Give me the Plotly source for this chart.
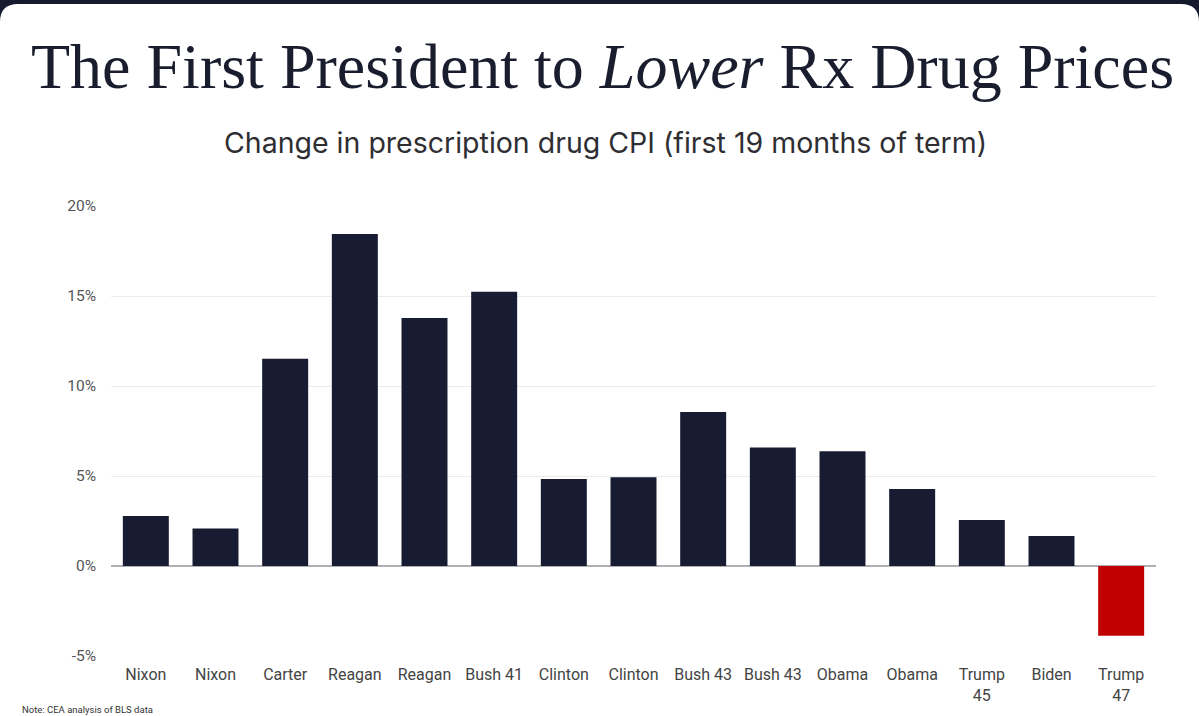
import plotly.graph_objects as go

# data
presidents = ["Nixon", "Nixon", "Carter", "Reagan", "Reagan", "Bush 41", "Clinton", "Clinton",
              "Bush 43", "Bush 43", "Obama", "Obama", "Trump<br>45", "Biden", "Trump<br>47"]
rx_cpi_change = [2.78, 2.09, 11.52, 18.44, 13.78, 15.24, 4.83, 4.93,
                 8.56, 6.59, 6.37, 4.28, 2.56, 1.67, -3.87]
y_ticks = [-5, 0, 5, 10, 15, 20]
y_tick_text = ["-5%", "0%", "5%", "10%", "15%", "20%"]

NAVY = "#181c33"
RED = "#c00000"

W_PX, H_PX = 1199, 716
L, R, T, B = 111, 1156, 206, 656  # plot area in pixels


def px(x):
    return (x - L) / (R - L)


def py(y):
    return (B - y) / (B - T)


bar_colors = [RED if v < 0 else NAVY for v in rx_cpi_change]

fig = go.Figure()
fig.add_trace(go.Bar(
    x=list(range(len(presidents))), y=rx_cpi_change,
    marker=dict(color=bar_colors, line=dict(width=0)),
    hoverinfo="skip",
))

# dark strip across the top with rounded card corners
band = (f"M {px(0)},{py(0)} L {px(W_PX)},{py(0)} L {px(W_PX)},{py(22)} "
        f"Q {px(W_PX)},{py(4)} {px(W_PX - 18)},{py(4)} L {px(18)},{py(4)} "
        f"Q {px(0)},{py(4)} {px(0)},{py(22)} Z")
fig.add_shape(type="path", path=band, xref="paper", yref="paper",
              fillcolor="#151a2e", line=dict(width=0), layer="above")

fig.add_annotation(
    text="The First President to <i>Lower</i> Rx Drug Prices",
    x=px(602), y=py(67), xref="paper", yref="paper", showarrow=False,
    xanchor="center", yanchor="middle",
    font=dict(family="Liberation Serif", size=64, color="#1a1d2e"),
)
fig.add_annotation(
    text="Change in prescription drug CPI (first 19 months of term)",
    x=px(605), y=py(142), xref="paper", yref="paper", showarrow=False,
    xanchor="center", yanchor="middle",
    font=dict(family="Inter", size=28.5, color="#2e2e33"),
)
fig.add_annotation(
    text="Note: CEA analysis of BLS data",
    x=px(20), y=py(709), xref="paper", yref="paper", showarrow=False,
    xanchor="left", yanchor="middle",
    font=dict(family="Roboto", size=9.5, color="#333333"),
)

fig.update_layout(
    width=W_PX, height=H_PX,
    margin=dict(l=L, r=W_PX - R, t=T, b=H_PX - B, pad=0),
    paper_bgcolor="white", plot_bgcolor="white",
    showlegend=False, bargap=0.34,
    xaxis=dict(
        tickmode="array", tickvals=list(range(len(presidents))), ticktext=presidents,
        range=[-0.5, len(presidents) - 0.5],
        showgrid=False, zeroline=False, showline=False, ticks="",
        tickfont=dict(family="Roboto", size=16, color="#444444"),
        ticklabelstandoff=7,
    ),
    yaxis=dict(
        range=[-5, 20], tickmode="array", tickvals=y_ticks, ticktext=y_tick_text,
        showgrid=True, gridcolor="#ebebeb", gridwidth=1,
        zeroline=True, zerolinecolor="#b0b0b4", zerolinewidth=1.5,
        showline=False, ticks="",
        tickfont=dict(family="Roboto", size=15.5, color="#555555"),
        ticklabelstandoff=14,
    ),
)

fig.write_html("out.html", config={"displayModeBar": False},
               post_script="document.body.style.margin='0';")
